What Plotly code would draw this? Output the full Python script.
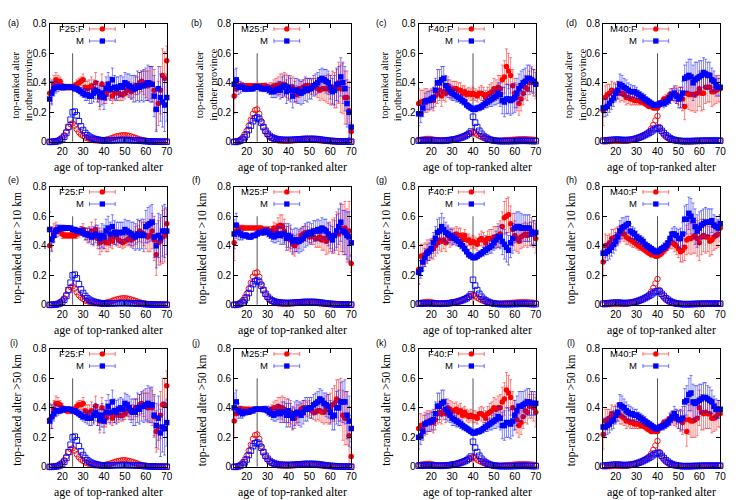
import plotly.graph_objects as go
from plotly.subplots import make_subplots

ages = [14, 15, 16, 17, 18, 19,
        20, 21, 22, 23, 24, 25, 26, 27, 28, 29,
        30, 31, 32, 33, 34, 35, 36, 37, 38, 39,
        40, 41, 42, 43, 44, 45, 46, 47, 48, 49,
        50, 51, 52, 53, 54, 55, 56, 57, 58, 59,
        60, 61, 62, 63, 64, 65, 66, 67, 68, 69,
        70]

egos = ["F25", "M25", "F40", "M40"]
ego_ages = [25, 25, 40, 40]
panel_tags = ["(a)", "(b)", "(c)", "(d)", "(e)", "(f)", "(g)", "(h)", "(i)", "(j)", "(k)", "(l)"]
row_titles = ["top-ranked alter<br>in other province", "top-ranked alter >10 km", "top-ranked alter >50 km"]
x_title = "age of top-ranked alter"
x_ticks = [20, 30, 40, 50, 60, 70]
y_ticks = [0, 0.2, 0.4, 0.6, 0.8]

# fraction of top-ranked alters that are far away, in hundredths
# row 1: other province
prov_F25_F = [33, 34, 39, 42, 41, 41,
              38, 37, 37, 37, 37, 37, 38, 39, 40, 41,
              42, 37, 36, 37, 38, 36, 40, 34, 30, 39,
              33, 32, 35, 35, 31, 33, 34, 33, 32, 32,
              33, 35, 36, 34, 35, 38, 38, 40, 41, 40,
              39, 38, 40, 39, 35, 22, 26, 35, 45, 43,
              55]
prov_F25_M = [29, 33, 36, 37, 37, 37,
              37, 37, 37, 37, 37, 37, 36, 36, 35, 34,
              33, 32, 32, 31, 31, 33, 35, 34, 31, 33,
              30, 36, 39, 36, 42, 37, 36, 37, 38, 37,
              40, 39, 38, 37, 36, 36, 38, 37, 38, 38,
              39, 40, 39, 39, 31, 22, 36, 30, 27, 25,
              30]
prov_M25_F = [31, 36, 38, 38, 38, 38,
              38, 38, 38, 38, 38, 38, 38, 38, 38, 38,
              37, 37, 37, 38, 38, 38, 39, 38, 39, 38,
              36, 37, 37, 34, 32, 36, 36, 37, 38, 38,
              38, 37, 38, 37, 36, 35, 36, 36, 36, 36,
              35, 37, 35, 36, 40, 36, 36, 30, 30, 21,
              7]
prov_M25_M = [39, 42, 37, 37, 37, 36,
              36, 36, 36, 36, 37, 37, 37, 36, 36, 36,
              36, 35, 34, 34, 35, 36, 35, 37, 38, 34,
              37, 35, 31, 35, 35, 34, 33, 34, 36, 35,
              36, 36, 38, 39, 40, 42, 43, 42, 41, 40,
              37, 34, 35, 39, 39, 44, 40, 36, 26, 20,
              10]
prov_F40_F = [26, 27, 27, 28, 28, 28,
              29, 28, 31, 33, 35, 31, 34, 33, 38, 36,
              35, 36, 36, 35, 35, 33, 34, 32, 33, 32,
              33, 32, 31, 33, 33, 32, 30, 32, 33, 34,
              36, 35, 37, 36, 42, 44, 51, 48, 45, 38,
              33, 30, 26, 29, 33, 37, 36, 40, 42, 40,
              39]
prov_F40_M = [19, 19, 23, 27, 28, 28,
              29, 30, 35, 40, 40, 42, 43, 38, 36, 34,
              33, 32, 31, 30, 29, 28, 27, 25, 24, 23,
              22, 22, 23, 23, 24, 25, 26, 27, 28, 29,
              30, 31, 33, 32, 28, 27, 29, 29, 28, 29,
              30, 33, 36, 38, 40, 41, 43, 43, 42, 41,
              39]
prov_M40_F = [21, 30, 32, 33, 35, 34,
              34, 35, 33, 33, 32, 30, 30, 29, 29, 28,
              28, 28, 27, 27, 26, 25, 24, 24, 23, 23,
              23, 25, 27, 29, 29, 30, 32, 32, 32, 32,
              31, 30, 29, 24, 33, 32, 32, 32, 32, 33,
              36, 33, 33, 37, 37, 37, 34, 34, 35, 36,
              36]
prov_M40_M = [23, 23, 24, 26, 28, 30,
              33, 35, 39, 38, 37, 36, 35, 34, 34, 34,
              33, 32, 31, 30, 29, 28, 27, 26, 25, 25,
              25, 26, 26, 26, 27, 28, 30, 32, 33, 31,
              29, 30, 33, 43, 44, 45, 44, 40, 42, 43,
              44, 45, 47, 46, 45, 45, 42, 41, 38, 37,
              37]

# row 2: farther than 10 km
km10_F25_F = [40, 45, 49, 51, 50, 50,
              48, 47, 47, 47, 47, 47, 47, 48, 49, 50,
              51, 48, 47, 48, 50, 46, 51, 45, 42, 43,
              45, 42, 42, 45, 43, 46, 46, 44, 43, 42,
              43, 44, 45, 44, 45, 47, 48, 50, 49, 48,
              47, 46, 47, 50, 44, 34, 42, 43, 46, 47,
              55]
km10_F25_M = [51, 44, 47, 50, 51, 52,
              52, 52, 52, 52, 52, 51, 51, 50, 50, 50,
              49, 48, 48, 47, 46, 47, 48, 47, 45, 47,
              46, 50, 52, 48, 53, 49, 48, 49, 49, 49,
              51, 50, 49, 48, 47, 46, 48, 47, 48, 47,
              53, 54, 55, 56, 46, 40, 47, 45, 50, 50,
              50]
km10_M25_F = [42, 50, 51, 52, 52, 52,
              52, 52, 52, 52, 52, 52, 52, 52, 51, 51,
              51, 50, 50, 52, 50, 53, 54, 53, 50, 47,
              45, 44, 41, 40, 42, 44, 47, 48, 49, 48,
              46, 47, 46, 45, 45, 46, 44, 45, 43, 45,
              46, 47, 47, 50, 48, 52, 51, 52, 47, 50,
              28]
km10_M25_M = [48, 54, 49, 48, 47, 47,
              47, 46, 46, 47, 47, 48, 49, 49, 49, 50,
              49, 48, 47, 46, 47, 48, 47, 48, 48, 45,
              47, 46, 43, 44, 44, 43, 44, 45, 47, 48,
              49, 48, 50, 50, 51, 50, 52, 51, 50, 48,
              46, 44, 47, 50, 53, 56, 50, 49, 47, 46,
              42]
km10_F40_F = [24, 33, 33, 34, 36, 37,
              38, 38, 40, 42, 44, 43, 44, 42, 47, 45,
              46, 47, 48, 47, 47, 44, 47, 44, 44, 42,
              43, 42, 41, 44, 45, 44, 42, 45, 45, 45,
              46, 46, 47, 48, 53, 59, 60, 61, 55, 51,
              47, 45, 43, 46, 47, 48, 47, 48, 50, 48,
              45]
km10_F40_M = [22, 24, 29, 32, 35, 36,
              38, 42, 45, 49, 50, 53, 51, 49, 48, 47,
              46, 45, 44, 43, 41, 40, 38, 36, 34, 33,
              32, 32, 33, 34, 35, 36, 37, 38, 39, 40,
              42, 44, 46, 46, 43, 41, 39, 37, 42, 45,
              52, 53, 53, 52, 52, 52, 52, 52, 48, 49,
              49]
km10_M40_F = [29, 40, 40, 42, 45, 45,
              46, 47, 48, 49, 48, 46, 45, 44, 43, 42,
              41, 40, 39, 38, 37, 36, 35, 34, 34, 33,
              33, 34, 35, 37, 38, 40, 42, 42, 41, 40,
              38, 36, 37, 39, 44, 45, 45, 46, 47, 45,
              42, 46, 47, 46, 46, 43, 44, 46, 47, 48,
              52]
km10_M40_M = [35, 35, 36, 37, 39, 41,
              43, 46, 50, 52, 53, 54, 55, 50, 49, 48,
              46, 45, 44, 43, 41, 40, 39, 38, 37, 36,
              36, 37, 38, 39, 40, 42, 45, 48, 48, 47,
              45, 45, 48, 58, 58, 62, 60, 57, 53, 50,
              52, 54, 55, 56, 56, 56, 57, 54, 53, 52,
              55]

# row 3: farther than 50 km
km50_F25_F = [32, 34, 39, 43, 43, 42,
              40, 39, 38, 38, 38, 38, 39, 41, 42, 42,
              43, 38, 37, 37, 38, 36, 41, 35, 31, 40,
              34, 33, 36, 36, 33, 35, 36, 35, 35, 35,
              36, 38, 39, 37, 37, 40, 40, 42, 43, 42,
              41, 40, 42, 40, 34, 24, 27, 35, 42, 42,
              55]
km50_F25_M = [31, 34, 36, 38, 38, 38,
              39, 39, 39, 39, 39, 38, 38, 37, 36, 35,
              34, 34, 33, 33, 33, 35, 37, 35, 32, 35,
              31, 37, 41, 37, 44, 38, 37, 39, 40, 39,
              43, 42, 40, 38, 37, 37, 40, 39, 41, 41,
              42, 43, 42, 42, 35, 28, 33, 23, 27, 26,
              30]
km50_M25_F = [31, 36, 38, 39, 39, 39,
              39, 39, 39, 39, 39, 39, 39, 39, 39, 39,
              38, 38, 39, 40, 40, 41, 40, 40, 39, 38,
              35, 37, 33, 33, 36, 36, 39, 40, 40, 39,
              40, 38, 37, 37, 38, 38, 37, 37, 39, 39,
              40, 42, 43, 46, 45, 44, 35, 33, 33, 21,
              7]
km50_M25_M = [40, 44, 38, 37, 36, 37,
              37, 37, 38, 38, 39, 39, 39, 39, 39, 39,
              38, 37, 36, 35, 36, 37, 36, 37, 37, 35,
              38, 35, 33, 36, 37, 36, 35, 37, 39, 39,
              40, 40, 42, 43, 44, 46, 45, 43, 42, 41,
              37, 34, 35, 40, 40, 44, 44, 44, 35, 31,
              26]
km50_F40_F = [26, 28, 27, 29, 30, 31,
              31, 30, 32, 36, 37, 36, 38, 36, 40, 39,
              38, 38, 39, 37, 38, 35, 37, 35, 34, 35,
              34, 34, 33, 36, 36, 35, 33, 36, 37, 38,
              40, 39, 40, 40, 44, 46, 52, 50, 47, 40,
              35, 32, 28, 30, 34, 38, 37, 41, 42, 40,
              37]
km50_F40_M = [20, 21, 24, 29, 30, 30,
              31, 32, 36, 41, 41, 43, 44, 39, 37, 35,
              33, 32, 31, 30, 29, 28, 27, 26, 25, 24,
              23, 23, 24, 24, 25, 26, 27, 28, 29, 30,
              31, 32, 34, 33, 28, 28, 30, 30, 29, 31,
              35, 38, 41, 41, 42, 43, 44, 44, 43, 43,
              43]
km50_M40_F = [22, 31, 32, 33, 36, 35,
              36, 37, 35, 34, 33, 31, 31, 30, 30, 29,
              29, 29, 28, 28, 27, 26, 25, 24, 24, 24,
              24, 26, 28, 30, 30, 31, 33, 33, 33, 33,
              32, 31, 30, 32, 24, 32, 31, 31, 32, 33,
              40, 37, 36, 37, 36, 36, 33, 33, 34, 36,
              36]
km50_M40_M = [27, 27, 28, 29, 31, 32,
              35, 37, 42, 41, 40, 38, 37, 36, 36, 35,
              35, 34, 33, 32, 31, 30, 29, 28, 27, 26,
              26, 27, 27, 28, 29, 30, 32, 34, 36, 34,
              32, 32, 33, 44, 45, 49, 50, 44, 43, 44,
              45, 46, 47, 47, 46, 45, 44, 41, 39, 39,
              39]

# error bars, thousandths (same ego group shares them across rows)
err_F25_F = [100, 80, 60, 50, 40, 30,
             30, 20, 20, 20, 20, 20, 20, 30, 30, 30,
             40, 40, 50, 50, 60, 60, 70, 70, 80, 70,
             70, 60, 60, 60, 50, 50, 50, 50, 40, 40,
             40, 40, 50, 50, 50, 60, 60, 70, 70, 80,
             90, 100, 110, 120, 140, 140, 150, 160, 180, 180,
             100]
err_F25_M = [120, 80, 50, 40, 30, 20,
             20, 20, 15, 15, 10, 10, 15, 20, 20, 30,
             30, 40, 40, 50, 50, 60, 60, 70, 70, 80,
             80, 80, 80, 80, 80, 80, 80, 70, 70, 70,
             70, 70, 80, 80, 90, 90, 100, 100, 100, 110,
             110, 120, 120, 120, 140, 150, 150, 160, 170, 180,
             160]
err_M25_F = [120, 50, 30, 20, 20, 15,
             10, 10, 10, 10, 10, 10, 10, 10, 15, 20,
             20, 30, 30, 40, 50, 60, 70, 80, 80, 80,
             80, 80, 70, 70, 60, 60, 50, 50, 50, 50,
             50, 50, 50, 60, 60, 70, 70, 80, 90, 100,
             100, 110, 120, 130, 140, 160, 170, 180, 180, 200,
             60]
err_M25_M = [100, 80, 50, 40, 30, 20,
             20, 15, 15, 15, 15, 15, 15, 15, 20, 20,
             30, 30, 40, 40, 50, 50, 60, 70, 70, 80,
             80, 80, 80, 80, 80, 80, 80, 80, 80, 80,
             70, 70, 70, 70, 70, 70, 70, 70, 80, 80,
             80, 90, 100, 110, 120, 130, 140, 150, 160, 170,
             90]
err_F40_F = [100, 80, 80, 80, 80, 70,
             70, 70, 70, 70, 70, 70, 60, 60, 60, 60,
             60, 50, 50, 50, 50, 50, 40, 40, 40, 40,
             40, 40, 40, 40, 50, 50, 50, 50, 60, 60,
             70, 70, 80, 90, 100, 110, 120, 120, 120, 110,
             100, 90, 80, 80, 80, 80, 80, 80, 90, 90,
             100]
err_F40_M = [80, 60, 60, 60, 60, 60,
             60, 70, 80, 90, 90, 90, 80, 70, 60, 50,
             50, 40, 40, 30, 30, 30, 20, 20, 20, 15,
             10, 15, 20, 20, 20, 30, 30, 40, 40, 50,
             50, 60, 70, 80, 90, 100, 100, 100, 100, 100,
             100, 100, 100, 100, 90, 90, 90, 90, 80, 80,
             80]
err_M40_F = [100, 80, 70, 60, 60, 60,
             60, 60, 60, 50, 50, 50, 40, 40, 40, 30,
             30, 30, 20, 20, 20, 20, 15, 15, 10, 10,
             10, 15, 20, 20, 30, 30, 40, 40, 50, 60,
             60, 70, 80, 90, 100, 100, 110, 110, 120, 120,
             120, 120, 110, 110, 100, 100, 100, 90, 90, 90,
             90]
err_M40_M = [60, 60, 60, 60, 60, 60,
             60, 60, 70, 70, 60, 60, 50, 50, 40, 40,
             40, 30, 30, 30, 30, 20, 20, 20, 20, 20,
             20, 20, 20, 30, 30, 30, 40, 40, 50, 50,
             60, 70, 80, 90, 100, 110, 120, 120, 120, 110,
             110, 100, 100, 100, 90, 90, 80, 70, 70, 60,
             60]

# age distribution of top-ranked alters, thousandths
dist_F25_F = [0, 0, 2, 5, 10, 20,
              30, 45, 70, 100, 120, 125, 110, 85, 65, 50,
              40, 30, 25, 20, 15, 12, 10, 10, 10, 10,
              12, 15, 18, 22, 27, 32, 37, 40, 43, 45,
              45, 43, 40, 36, 32, 27, 22, 17, 13, 10,
              7, 5, 4, 3, 2, 1, 1, 1, 1, 1,
              1]
dist_F25_M = [0, 0, 1, 2, 5, 10,
              20, 35, 60, 100, 150, 200, 205, 180, 140, 105,
              80, 60, 45, 35, 28, 22, 18, 15, 12, 10,
              9, 9, 9, 10, 10, 11, 11, 12, 12, 12,
              12, 12, 11, 11, 10, 10, 9, 8, 7, 6,
              5, 4, 3, 3, 2, 2, 1, 1, 1, 1,
              1]
dist_M25_F = [0, 0, 5, 15, 30, 50,
              75, 110, 150, 190, 215, 220, 190, 140, 100, 70,
              50, 35, 25, 18, 13, 10, 9, 8, 8, 8,
              8, 9, 10, 11, 12, 13, 14, 15, 15, 15,
              15, 15, 14, 13, 12, 10, 9, 7, 6, 5,
              4, 3, 3, 2, 2, 2, 1, 1, 1, 1,
              1]
dist_M25_M = [0, 0, 3, 8, 15, 30,
              50, 80, 110, 140, 160, 165, 155, 130, 100, 75,
              55, 40, 30, 25, 20, 17, 15, 14, 13, 13,
              13, 13, 14, 15, 16, 17, 18, 19, 20, 20,
              20, 20, 20, 19, 18, 16, 14, 12, 10, 8,
              7, 6, 5, 4, 3, 3, 2, 2, 2, 1,
              1]
dist_F40_F = [12, 14, 16, 18, 20, 20,
              18, 15, 12, 10, 9, 9, 10, 11, 12, 14,
              16, 18, 21, 25, 30, 35, 40, 47, 55, 62,
              65, 58, 48, 40, 33, 27, 22, 18, 14, 11,
              9, 8, 7, 8, 9, 10, 11, 12, 13, 14,
              15, 16, 17, 17, 18, 18, 17, 16, 15, 14,
              12]
dist_F40_M = [8, 8, 9, 10, 10, 10,
              10, 9, 8, 8, 7, 7, 8, 9, 10, 12,
              14, 16, 19, 23, 27, 32, 38, 45, 55, 70,
              170, 130, 100, 75, 55, 40, 30, 22, 16, 12,
              9, 7, 6, 5, 5, 5, 5, 5, 5, 6,
              6, 6, 7, 7, 7, 7, 7, 6, 6, 5,
              5]
dist_M40_F = [3, 3, 4, 5, 6, 7,
              7, 7, 7, 7, 7, 8, 9, 11, 14, 18,
              22, 27, 33, 40, 48, 57, 70, 90, 115, 145,
              175, 100, 70, 50, 35, 25, 18, 13, 10, 8,
              6, 5, 4, 4, 4, 4, 4, 5, 5, 5,
              5, 6, 6, 6, 7, 7, 7, 7, 7, 7,
              7]
dist_M40_M = [8, 9, 10, 12, 13, 14,
              15, 15, 14, 13, 12, 12, 13, 14, 16, 19,
              23, 28, 33, 39, 46, 53, 61, 70, 80, 90,
              95, 90, 75, 60, 45, 35, 25, 18, 13, 10,
              8, 6, 5, 5, 5, 5, 5, 6, 6, 7,
              7, 7, 8, 8, 8, 8, 8, 8, 8, 8,
              8]

share = {
    (0, "F25"): (prov_F25_F, prov_F25_M), (0, "M25"): (prov_M25_F, prov_M25_M),
    (0, "F40"): (prov_F40_F, prov_F40_M), (0, "M40"): (prov_M40_F, prov_M40_M),
    (1, "F25"): (km10_F25_F, km10_F25_M), (1, "M25"): (km10_M25_F, km10_M25_M),
    (1, "F40"): (km10_F40_F, km10_F40_M), (1, "M40"): (km10_M40_F, km10_M40_M),
    (2, "F25"): (km50_F25_F, km50_F25_M), (2, "M25"): (km50_M25_F, km50_M25_M),
    (2, "F40"): (km50_F40_F, km50_F40_M), (2, "M40"): (km50_M40_F, km50_M40_M),
}
errors = {"F25": (err_F25_F, err_F25_M), "M25": (err_M25_F, err_M25_M),
          "F40": (err_F40_F, err_F40_M), "M40": (err_M40_F, err_M40_M)}
dists = {"F25": (dist_F25_F, dist_F25_M), "M25": (dist_M25_F, dist_M25_M),
         "F40": (dist_F40_F, dist_F40_M), "M40": (dist_M40_F, dist_M40_M)}

for key, pair in list(share.items()) + list(errors.items()) + list(dists.items()):
    for arr in pair:
        assert len(arr) == len(ages), (key, len(arr))

RED, BLUE = "#ff0000", "#0000ff"
RED_ERR, BLUE_ERR = "rgba(255,0,0,0.55)", "rgba(0,0,255,0.55)"
SANS = "Liberation Sans, Arial, sans-serif"
SERIF = "Liberation Serif, Times New Roman, serif"

W, H = 745, 500
COL_X = [42, 228, 414, 600]
ROW_Y = [10, 177, 343]
PW, PH = 118, 121
TAG_X = [6, 190, 377, 568]
TAG_Y = [9, 170, 337]
KEY_FONT = 9.5
KEY_STEP = 1.3 * KEY_FONT / PH      # one text line, in axis-domain units
KEY_MID = 0.905

fig = make_subplots(rows=3, cols=4)
shapes, notes = [], []

for r in range(3):
    for c in range(4):
        k = r * 4 + c + 1
        ego = egos[c]
        f_vals, m_vals = share[(r, ego)]
        f_err, m_err = errors[ego]
        f_dist, m_dist = dists[ego]
        pos = dict(row=r + 1, col=c + 1)

        fig.add_trace(go.Scatter(
            x=ages, y=[v / 100 for v in f_vals], mode="markers", cliponaxis=False,
            marker=dict(symbol="circle", size=5.5, color=RED),
            error_y=dict(type="data", array=[e / 1000 for e in f_err],
                         color=RED_ERR, thickness=0.9, width=1.5)), **pos)
        fig.add_trace(go.Scatter(
            x=ages, y=[v / 100 for v in m_vals], mode="markers", cliponaxis=False,
            marker=dict(symbol="square", size=5.5, color=BLUE),
            error_y=dict(type="data", array=[e / 1000 for e in m_err],
                         color=BLUE_ERR, thickness=0.9, width=1.5)), **pos)
        fig.add_trace(go.Scatter(
            x=ages, y=[v / 1000 for v in f_dist], mode="markers", cliponaxis=False,
            marker=dict(symbol="circle-open", size=5.5, color=RED, line=dict(width=0.9))), **pos)
        fig.add_trace(go.Scatter(
            x=ages, y=[v / 1000 for v in m_dist], mode="markers", cliponaxis=False,
            marker=dict(symbol="square-open", size=5.5, color=BLUE, line=dict(width=0.9))), **pos)

        xs = "" if k == 1 else str(k)
        x0 = COL_X[c] / W
        x1 = (COL_X[c] + PW) / W
        y1 = 1 - ROW_Y[r] / H
        y0 = 1 - (ROW_Y[r] + PH) / H
        fig.layout["xaxis" + xs].domain = [x0, x1]
        fig.layout["yaxis" + xs].domain = [y0, y1]

        # ego-age marker line
        shapes.append(dict(type="line", xref="x" + xs, yref="y" + xs,
                           x0=ego_ages[c], x1=ego_ages[c], y0=0, y1=0.6,
                           line=dict(color="#555555", width=1), layer="below"))

        # gnuplot-style key: labels on the left, error-bar sample with point on the right
        dx, dy = "x" + xs + " domain", "y" + xs + " domain"
        notes.append(dict(text=ego + ":F<br>M", xref=dx, yref=dy, x=0.30, y=KEY_MID,
                          xanchor="right", yanchor="middle", align="right", showarrow=False,
                          borderpad=0, font=dict(family=SANS, size=KEY_FONT, color="black")))
        for j, (col, ecol, sym) in enumerate([(RED, RED_ERR, "circle"), (BLUE, BLUE_ERR, "rect")]):
            ky = KEY_MID + KEY_STEP / 2 - j * KEY_STEP
            shapes.append(dict(type="line", xref=dx, yref=dy, x0=0.34, x1=0.56, y0=ky, y1=ky,
                               line=dict(color=ecol, width=1)))
            for ex in (0.34, 0.56):
                shapes.append(dict(type="line", xref=dx, yref=dy, x0=ex, x1=ex,
                                   y0=ky - 0.018, y1=ky + 0.018, line=dict(color=ecol, width=1)))
            hx, hy = 2.7 / PW, 2.7 / PH
            shapes.append(dict(type=sym, xref=dx, yref=dy, x0=0.45 - hx, x1=0.45 + hx,
                               y0=ky - hy, y1=ky + hy, fillcolor=col, line=dict(width=0)))

        # axis titles and panel tag
        notes.append(dict(text=x_title, xref="paper", yref="paper",
                          x=(COL_X[c] + PW / 2) / W, y=1 - (ROW_Y[r] + PH + 26) / H,
                          xanchor="center", yanchor="middle", showarrow=False,
                          font=dict(family=SERIF, size=12, color="black")))
        off = 27.5 if r == 0 else 32
        notes.append(dict(text=row_titles[r], xref="paper", yref="paper",
                          x=(COL_X[c] - off) / W, y=1 - (ROW_Y[r] + PH / 2 + 2) / H,
                          xanchor="center", yanchor="middle", textangle=-90, showarrow=False,
                          font=dict(family=SERIF, size=10.5 if r == 0 else 11.5, color="black")))
        notes.append(dict(text=panel_tags[k - 1], xref="paper", yref="paper",
                          x=TAG_X[c] / W, y=1 - TAG_Y[r] / H,
                          xanchor="center", yanchor="middle", showarrow=False,
                          font=dict(family=SANS, size=9, color="black")))

fig.update_xaxes(range=[14, 70], tickvals=x_ticks, ticks="inside", ticklen=4,
                 tickcolor="black", showline=True, linecolor="black", linewidth=1,
                 mirror="allticks", showgrid=False, zeroline=False,
                 tickfont=dict(family=SANS, size=10, color="black"))
fig.update_yaxes(range=[0, 0.8], tickvals=y_ticks, ticktext=["0", "0.2", "0.4", "0.6", "0.8"],
                 ticks="inside", ticklen=4, tickcolor="black", showline=True,
                 linecolor="black", linewidth=1, mirror="allticks", showgrid=False,
                 zeroline=False, tickfont=dict(family=SANS, size=10, color="black"))
fig.update_layout(width=W, height=H, margin=dict(l=0, r=0, t=0, b=0),
                  paper_bgcolor="white", plot_bgcolor="white", showlegend=False,
                  shapes=shapes, annotations=notes)
fig.write_html("out.html")
